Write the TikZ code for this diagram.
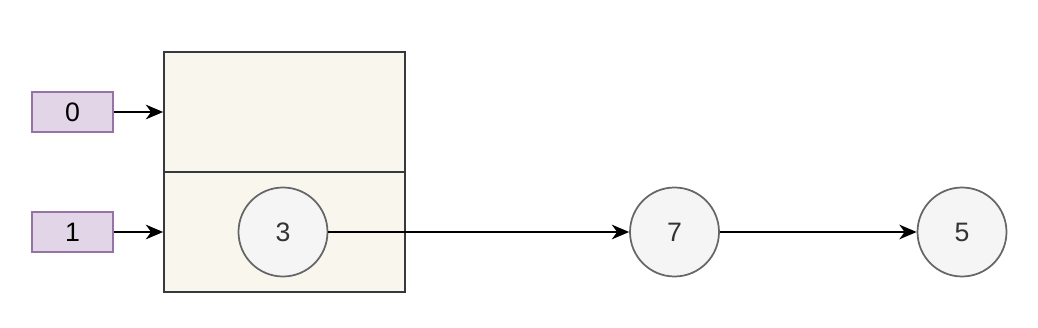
\documentclass[tikz,border=0pt]{standalone}
\usepackage{fontspec}
\setmainfont{Liberation Sans}
\usetikzlibrary{arrows.meta}
\definecolor{idxfill}{HTML}{E1D5E7}
\definecolor{idxline}{HTML}{9673A6}
\definecolor{cellfill}{HTML}{F9F7ED}
\definecolor{cellline}{HTML}{36393D}
\definecolor{elemfill}{HTML}{F5F5F5}
\definecolor{elemline}{HTML}{666666}
\definecolor{elemtext}{HTML}{333333}
\begin{document}
\begin{tikzpicture}[x=0.75pt,y=-0.75pt,line width=1.3pt,
    every node/.style={inner sep=0pt,font=\fontsize{20}{24}\selectfont},
    idx/.style={rectangle,draw=idxline,fill=idxfill,minimum width=60.75pt,minimum height=30pt},
    cell/.style={rectangle,draw=cellline,fill=cellfill,minimum width=180.75pt,minimum height=90pt},
    elem/.style={circle,draw=elemline,fill=elemfill,text=elemtext,minimum size=66.75pt},
    link/.style={-{Stealth[length=13pt,width=11pt,inset=4pt]}}]
            \useasboundingbox (0,0) rectangle (1038,328);
            \node[cell] (top) at (284.5,112) {};
            \node[cell] (bot) at (284.5,232) {};
            \node[idx] (i0) at (72.5,112) {0};
            \node[idx] (i1) at (72.5,232) {1};
            \node[elem] (a) at (283,232) {3};
            \node[elem] (b) at (674.5,232) {7};
            \node[elem] (c) at (962,232) {5};
            \draw[link] (i0)--(top);
            \draw[link] (i1)--(bot);
            \draw[link] (a)--(b);
            \draw[link] (b)--(c);
        \end{tikzpicture}
\end{document}
